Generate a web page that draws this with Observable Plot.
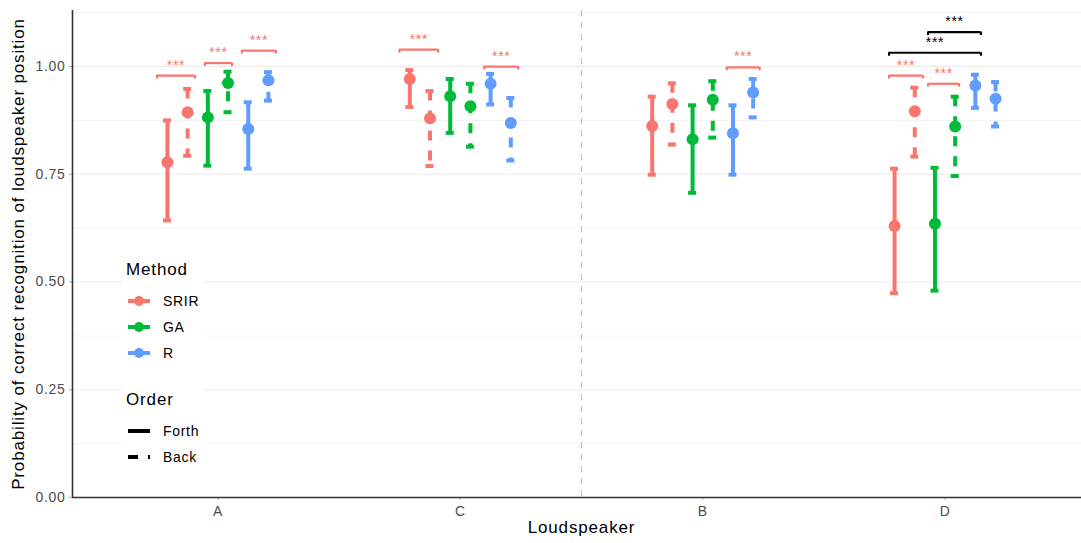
<!DOCTYPE html>
<html><head><meta charset="utf-8">
<script src="https://cdn.jsdelivr.net/npm/d3@7"></script>
<script src="https://cdn.jsdelivr.net/npm/@observablehq/plot@0.6"></script>
<style>
html,body{margin:0;padding:0;background:#fff;}
#wrap{position:relative;width:1081px;height:543px;overflow:hidden;font-family:"Liberation Sans",Arial,Helvetica,sans-serif;}
#legend{position:absolute;left:122px;top:255px;}
svg text{letter-spacing:0.05em;}
</style></head><body><div id="wrap"><div id="chart"></div><div id="legend"></div></div>
<script>
// ---- data ----
const speakers = ["A", "C", "B", "D"];
const methods = ["SRIR", "GA", "R"];
const orders = ["Forth", "Back"];
const methodColors = ["#F8766D", "#00BA38", "#619CFF"];
const yTicks = [0, 0.25, 0.5, 0.75, 1.0];
const yMinor = [0.125, 0.375, 0.625, 0.875, 1.125];

// rows: SRIR-Forth, SRIR-Back, GA-Forth, GA-Back, R-Forth, R-Back ; columns: A, C, B, D
const estimate = [
  [0.778, 0.971, 0.862, 0.630],
  [0.894, 0.880, 0.913, 0.896],
  [0.882, 0.931, 0.831, 0.635],
  [0.962, 0.908, 0.923, 0.861],
  [0.855, 0.960, 0.845, 0.956],
  [0.968, 0.869, 0.940, 0.925]
];
const lower = [
  [0.643, 0.906, 0.749, 0.474],
  [0.793, 0.769, 0.819, 0.791],
  [0.770, 0.846, 0.707, 0.480],
  [0.894, 0.814, 0.835, 0.746],
  [0.763, 0.912, 0.749, 0.904],
  [0.921, 0.782, 0.882, 0.861]
];
const upper = [
  [0.875, 0.992, 0.930, 0.763],
  [0.948, 0.943, 0.961, 0.951],
  [0.943, 0.971, 0.910, 0.765],
  [0.988, 0.960, 0.966, 0.930],
  [0.917, 0.983, 0.910, 0.981],
  [0.987, 0.927, 0.971, 0.964]
];

// significance brackets (xmin/xmax relative to the loudspeaker, y position)
const bracketSpeaker = ["A", "A", "A", "C", "C", "B", "D", "D", "D", "D"];
const bracketKind    = ["order", "order", "order", "order", "order", "order", "order", "order", "method", "method"];
const bracketFrom    = [-0.251, -0.054, 0.099, -0.251, 0.099, 0.099, -0.231, -0.070, -0.231, -0.070];
const bracketTo      = [-0.095, 0.058, 0.239, -0.091, 0.239, 0.235, -0.091, 0.058, 0.148, 0.148];
const bracketY       = [0.979, 1.008, 1.037, 1.039, 1.000, 0.998, 0.979, 0.960, 1.032, 1.080];
const bracketLabel   = ["***", "***", "***", "***", "***", "***", "***", "***", "***", "***"];
const kinds = ["order", "method"];
const kindColors = ["#F8766D", "#000000"];

// ---- build ----
const dodge = 0.5;
const capWidth = 0.033;
const tip = 0.008;
const rows = [];
let si = 0;
methods.forEach((m) => orders.forEach((o) => {
  const slot = si;
  speakers.forEach((sp, k) => rows.push({
    speaker: sp, method: m, order: o,
    x: k + 1 + (slot - 2.5) * dodge / 6,
    est: estimate[slot][k], lo: lower[slot][k], hi: upper[slot][k]
  }));
  si++;
}));
const brackets = bracketSpeaker.map((sp, i) => {
  const c = speakers.indexOf(sp) + 1;
  return {x1: c + bracketFrom[i], x2: c + bracketTo[i], y: bracketY[i], kind: bracketKind[i], label: bracketLabel[i]};
});
const tips = brackets.flatMap(b => [{x: b.x1, y: b.y, kind: b.kind}, {x: b.x2, y: b.y, kind: b.kind}]);
const forth = rows.filter(d => d.order === "Forth");
const back = rows.filter(d => d.order === "Back");
const sepX = (speakers.indexOf("C") + speakers.indexOf("B")) / 2 + 1;
const kindColor = k => kindColors[kinds.indexOf(k)];

const font = '"Liberation Sans",Arial,Helvetica,sans-serif';
const chart = Plot.plot({
  width: 1081, height: 543,
  marginLeft: 72, marginRight: -9, marginTop: 10, marginBottom: 46,
  style: {fontFamily: font, background: "white"},
  x: {domain: [0.4, 4.6]},
  y: {domain: [0, 1.13]},
  color: {domain: methods, range: methodColors},
  marks: [
    Plot.ruleY(yMinor, {stroke: "#f0f0f0", strokeWidth: 0.8}),
    Plot.ruleY(yTicks.slice(1), {stroke: "#ebebeb", strokeWidth: 1.1}),
    Plot.ruleX([sepX], {stroke: "#bdbdbd", strokeWidth: 1.1, strokeDasharray: "6,6"}),
    Plot.axisY({ticks: yTicks, tickFormat: d3.format(".2f"), tickSize: 3, tickPadding: 4, fontSize: 14, fill: "#4d4d4d", stroke: "#aaaaaa", label: null}),
    Plot.axisX({ticks: speakers.map((_, i) => i + 1), tickFormat: i => speakers[i - 1], tickSize: 3, tickPadding: 6, fontSize: 14, fill: "#4d4d4d", stroke: "#aaaaaa", label: null}),
    Plot.ruleY([0], {stroke: "#333333", strokeWidth: 1.6}),
    Plot.ruleX([0.4], {stroke: "#333333", strokeWidth: 1.6}),
    Plot.text(["Probability of correct recognition of loudspeaker position"], {frameAnchor: "left", textAnchor: "middle", rotate: -90, dx: -54, fontSize: 17, fill: "black"}),
    Plot.text(["Loudspeaker"], {frameAnchor: "bottom", dy: 35, fontSize: 17, fill: "black"}),
    // brackets
    Plot.ruleY(brackets, {y: "y", x1: "x1", x2: "x2", stroke: d => kindColor(d.kind), strokeWidth: 2.2}),
    Plot.ruleX(tips, {x: "x", y1: "y", y2: d => d.y - tip, stroke: d => kindColor(d.kind), strokeWidth: 2.2}),
    Plot.text(brackets, {x: d => (d.x1 + d.x2) / 2, y: "y", text: "label", fill: d => kindColor(d.kind), fontSize: 14, lineAnchor: "bottom", dy: -6}),
    // error bars
    Plot.ruleX(forth, {x: "x", y1: "hi", y2: "lo", stroke: "method", strokeWidth: 4}),
    Plot.ruleX(back, {x: "x", y1: "hi", y2: "lo", stroke: "method", strokeWidth: 4, strokeDasharray: "10,10"}),
    Plot.ruleY(rows, {y: "hi", x1: d => d.x - capWidth / 2, x2: d => d.x + capWidth / 2, stroke: "method", strokeWidth: 4}),
    Plot.ruleY(rows, {y: "lo", x1: d => d.x - capWidth / 2, x2: d => d.x + capWidth / 2, stroke: "method", strokeWidth: 4}),
    Plot.dot(rows, {x: "x", y: "est", fill: "method", r: 6})
  ]
});
document.getElementById("chart").appendChild(chart);

// ---- legend ----
const lg = d3.select("#legend").append("svg").attr("width", 82).attr("height", 215)
  .style("background", "white").style("font-family", font).style("display", "block");
lg.append("text").attr("x", 4).attr("y", 20).attr("font-size", 17).attr("fill", "black").text("Method");
methods.forEach((m, i) => {
  const y = 46 + i * 26;
  lg.append("line").attr("x1", 6).attr("x2", 28).attr("y1", y).attr("y2", y).attr("stroke", methodColors[i]).attr("stroke-width", 4);
  lg.append("circle").attr("cx", 17).attr("cy", y).attr("r", 5).attr("fill", methodColors[i]);
  lg.append("text").attr("x", 41).attr("y", y).attr("dy", "0.35em").attr("font-size", 14).attr("fill", "black").text(m);
});
lg.append("text").attr("x", 4).attr("y", 150).attr("font-size", 17).attr("fill", "black").text("Order");
orders.forEach((o, i) => {
  const y = 176 + i * 26;
  lg.append("line").attr("x1", 6).attr("x2", 28).attr("y1", y).attr("y2", y).attr("stroke", "black").attr("stroke-width", 4)
    .attr("stroke-dasharray", o === "Back" ? "10,10" : null);
  lg.append("text").attr("x", 41).attr("y", y).attr("dy", "0.35em").attr("font-size", 14).attr("fill", "black").text(o);
});
</script></body></html>
